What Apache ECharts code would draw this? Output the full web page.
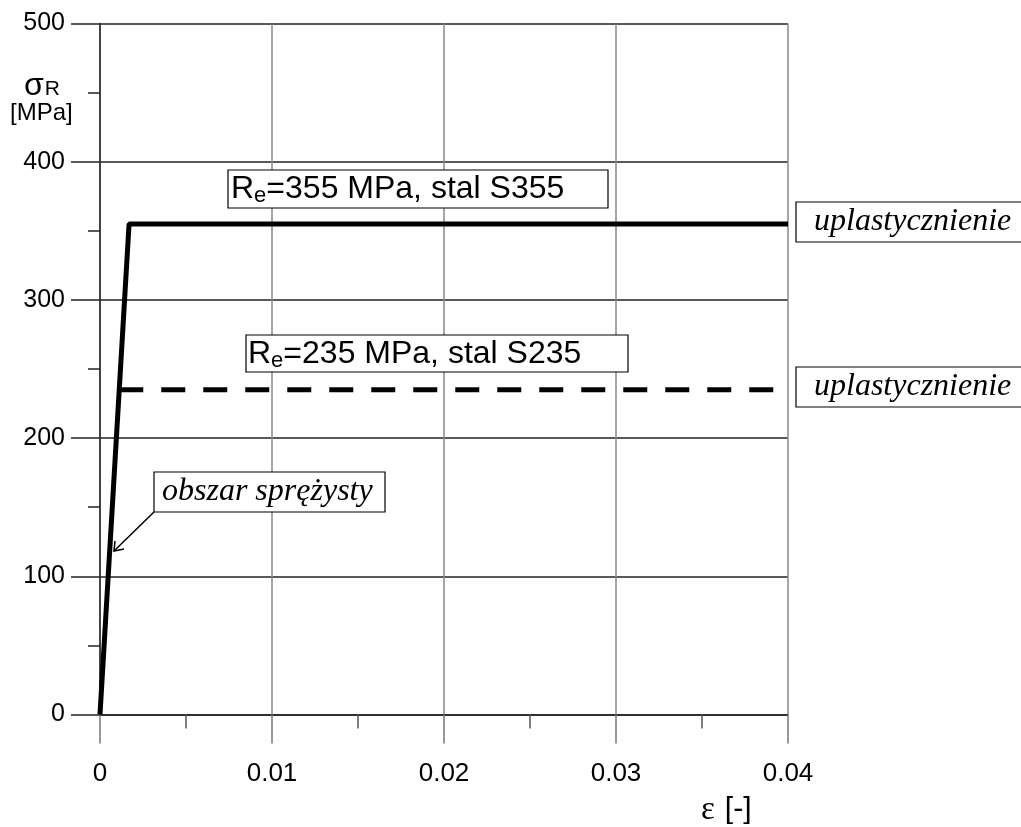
<!DOCTYPE html>
<html>
<head>
<meta charset="utf-8">
<script src="https://cdn.jsdelivr.net/npm/echarts@6/dist/echarts.min.js"></script>
<style>
html,body{margin:0;padding:0;background:#fff;}
#chart{width:1021px;height:827px;}
</style>
</head>
<body>
<div id="chart"></div>
<script>
// ---- data ----
const strainS355 = [0, 0.00169, 0.04];
const stressS355 = [0, 355, 355];
const strainS235 = [0.00112, 0.04];
const stressS235 = [235, 235];
const xTickLabels = ['0', '0.01', '0.02', '0.03', '0.04'];
const yTickLabels = ['0', '100', '200', '300', '400', '500'];
const labelS355 = ['R', 'e', '=355 MPa, stal S355'];
const labelS235 = ['R', 'e', '=235 MPa, stal S235'];
const labelYield = 'uplastycznienie';
const labelElastic = 'obszar sprężysty';

const chart = echarts.init(document.getElementById('chart'), null, {renderer: 'canvas'});
const sans = 'Liberation Sans, Arial, sans-serif';
const serif = 'Liberation Serif, Times New Roman, serif';

function pairs(xs, ys) { return xs.map((x, i) => [x, ys[i]]); }

function boxText(parts) {
  return '{m|' + parts[0] + '}{s|' + parts[1] + '}{m|' + parts[2] + '}';
}
const richSub = {
  m: {fontSize: 32, fontFamily: sans, fill: '#000'},
  s: {fontSize: 22, fontFamily: sans, fill: '#000', padding: [13, 0, 0, 0]}
};

const option = {
  animation: false,
  backgroundColor: '#fff',
  grid: {left: 100, right: 233, top: 23.5, bottom: 112.5, containLabel: false},
  xAxis: {
    type: 'value', min: 0, max: 0.04, interval: 0.01,
    axisLine: {show: true, onZero: false, lineStyle: {color: '#222', width: 1.5}},
    axisTick: {show: true, length: 29, lineStyle: {color: '#777', width: 1.5}},
    minorTick: {show: true, splitNumber: 2, length: 14, lineStyle: {color: '#555', width: 1.5}},
    splitLine: {show: true, lineStyle: {color: '#888', width: 1.5}},
    axisLabel: {
      fontSize: 26, color: '#000', fontFamily: sans, margin: 46,
      formatter: function (v) { return xTickLabels[Math.round(v / 0.01)]; }
    }
  },
  yAxis: {
    type: 'value', min: 0, max: 500, interval: 100,
    axisLine: {show: true, onZero: false, lineStyle: {color: '#222', width: 1.5}},
    axisTick: {show: true, length: 29, lineStyle: {color: '#222', width: 1.5}},
    minorTick: {show: true, splitNumber: 2, length: 12, lineStyle: {color: '#222', width: 1.5}},
    splitLine: {show: true, lineStyle: {color: '#222', width: 1.5}},
    axisLabel: {
      fontSize: 25, color: '#000', fontFamily: sans, margin: 35,
      formatter: function (v) { return yTickLabels[Math.round(v / 100)]; }
    }
  },
  series: [
    {
      type: 'line', data: pairs(strainS355, stressS355), symbol: 'none',
      lineStyle: {color: '#000', width: 5}, z: 5
    },
    {
      type: 'line', data: pairs(strainS235, stressS235), symbol: 'none',
      lineStyle: {color: '#000', width: 5, type: [24, 18], dashOffset: 0}, z: 5
    }
  ],
  graphic: [
    // axis title y
    {type: 'text', x: 24, y: 86, style: {text: '{g|σ}{r|R}', verticalAlign: 'middle', rich: {
      g: {fontSize: 32, fontFamily: sans, fill: '#000'},
      r: {fontSize: 21, fontFamily: sans, fill: '#000', padding: [7, 0, 0, 1]}
    }}},
    {type: 'text', x: 10, y: 113, style: {text: '[MPa]', font: '24px ' + sans, fill: '#000', verticalAlign: 'middle'}},
    // axis title x
    {type: 'text', x: 701, y: 810, style: {text: '{e|ε}{b|[-]}', verticalAlign: 'middle', rich: {
      e: {fontSize: 33, fontFamily: serif, fill: '#000'},
      b: {fontSize: 30, fontFamily: sans, fill: '#000', padding: [0, 0, 0, 10]}
    }}},
    // S355 box
    {type: 'rect', shape: {x: 228, y: 170, width: 380, height: 38},
      style: {fill: '#fff', stroke: '#000', lineWidth: 1.2}, z: 20},
    {type: 'text', x: 231, y: 189, z: 21, style: {text: boxText(labelS355), rich: richSub, verticalAlign: 'middle'}},
    // S235 box
    {type: 'rect', shape: {x: 246, y: 335, width: 382, height: 37},
      style: {fill: '#fff', stroke: '#000', lineWidth: 1.2}, z: 20},
    {type: 'text', x: 248, y: 354, z: 21, style: {text: boxText(labelS235), rich: richSub, verticalAlign: 'middle'}},
    // yield boxes
    {type: 'rect', shape: {x: 796, y: 202, width: 240, height: 40},
      style: {fill: '#fff', stroke: '#000', lineWidth: 1.2}, z: 20},
    {type: 'text', x: 814, y: 222, z: 21, style: {text: labelYield, font: 'italic 32px ' + serif, fill: '#000', verticalAlign: 'middle'}},
    {type: 'rect', shape: {x: 796, y: 367, width: 240, height: 40},
      style: {fill: '#fff', stroke: '#000', lineWidth: 1.2}, z: 20},
    {type: 'text', x: 814, y: 387, z: 21, style: {text: labelYield, font: 'italic 32px ' + serif, fill: '#000', verticalAlign: 'middle'}},
    // elastic box
    {type: 'rect', shape: {x: 154, y: 472, width: 231, height: 40},
      style: {fill: '#fff', stroke: '#000', lineWidth: 1.2}, z: 20},
    {type: 'text', x: 162, y: 492, z: 21, style: {text: labelElastic, font: 'italic 32px ' + serif, fill: '#000', verticalAlign: 'middle'}},
    // arrow
    {type: 'line', shape: {x1: 154, y1: 512, x2: 114, y2: 551}, style: {stroke: '#000', lineWidth: 1.5}, z: 20},
    {type: 'polyline', shape: {points: [[115, 541], [114, 551], [124, 549]]}, style: {stroke: '#000', lineWidth: 1.5, fill: null}, z: 20}
  ]
};
chart.setOption(option);
</script>
</body>
</html>
